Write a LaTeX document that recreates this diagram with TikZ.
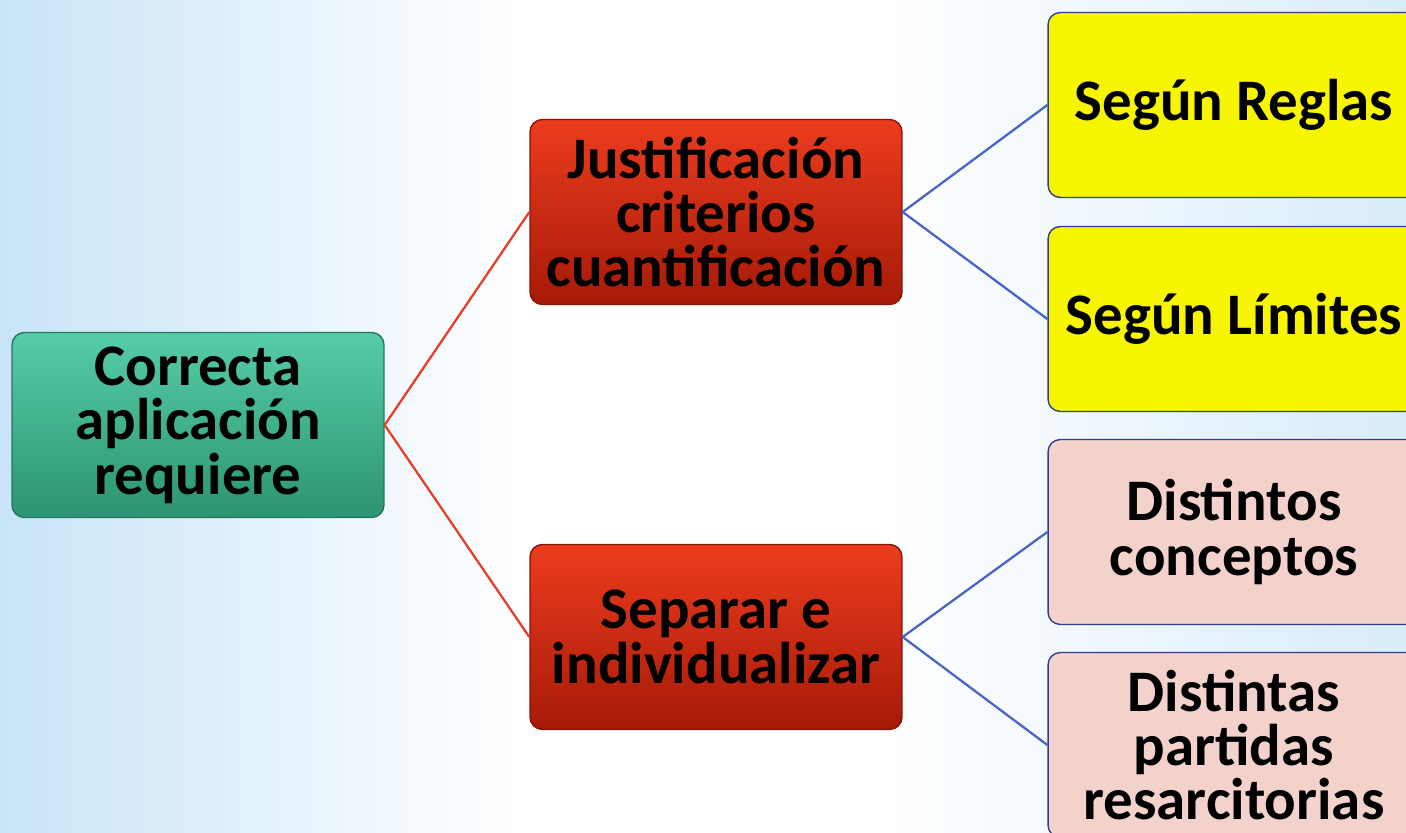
\documentclass[tikz,border=0pt]{standalone}
\usepackage{fontspec}
\setmainfont{Carlito}
\definecolor{fondo}{RGB}{200,228,247}
\definecolor{verdeA}{RGB}{86,204,168}
\definecolor{verdeB}{RGB}{44,148,114}
\definecolor{rojoA}{RGB}{236,60,30}
\definecolor{rojoB}{RGB}{166,26,8}
\definecolor{amarillo}{RGB}{247,246,0}
\definecolor{rosa}{RGB}{242,210,202}
\definecolor{borde}{RGB}{48,62,140}
\definecolor{lineaR}{RGB}{232,62,40}
\definecolor{lineaA}{RGB}{72,100,200}
\begin{document}
\begin{tikzpicture}[x=0.02cm,y=-0.02cm,
  caja/.style={rectangle,rounded corners=7pt,minimum width=7.44cm,minimum height=3.7cm,
    inner sep=0pt,align=center,line width=0.8pt,
    font=\bfseries\fontsize{33.5}{31}\selectfont},
  cverde/.style={caja,draw=verdeB!80!black,top color=verdeA,bottom color=verdeB},
  crojo/.style={caja,draw=rojoB!80!black,top color=rojoA,bottom color=rojoB},
  camar/.style={caja,draw=borde,fill=amarillo},
  crosa/.style={caja,draw=borde,fill=rosa},
  rlin/.style={draw=lineaR,line width=1.3pt},
  alin/.style={draw=lineaA,line width=1.3pt}]
\useasboundingbox (0,0) rectangle (1406,832);
\clip (0,0) rectangle (1406,832);
\fill[white] (0,0) rectangle (1406,832);
\shade[left color=fondo,right color=white] (0,0) rectangle (520,832);
\shade[left color=white,right color=fondo!70] (880,0) rectangle (1406,832);
% nivel 1
\node[cverde] (ca) at (198,425) {Correcta\\aplicación\\requiere};
% nivel 2
\node[crojo] (jc) at (716,212) {Justificación\\criterios\\cuantificación};
\node[crojo] (si) at (716,637) {Separar e\\individualizar};
% nivel 3
\node[camar] (sr) at (1234,105) {Según Reglas};
\node[camar] (sl) at (1234,319) {Según Límites};
\node[crosa] (dc) at (1234,532) {Distintos\\conceptos};
\node[crosa] (dp) at (1234,745) {Distintas\\partidas\\resarcitorias};
% conectores
\draw[rlin] (ca.east) -- (jc.west);
\draw[rlin] (ca.east) -- (si.west);
\draw[alin] (jc.east) -- (sr.west);
\draw[alin] (jc.east) -- (sl.west);
\draw[alin] (si.east) -- (dc.west);
\draw[alin] (si.east) -- (dp.west);
\end{tikzpicture}
\end{document}
